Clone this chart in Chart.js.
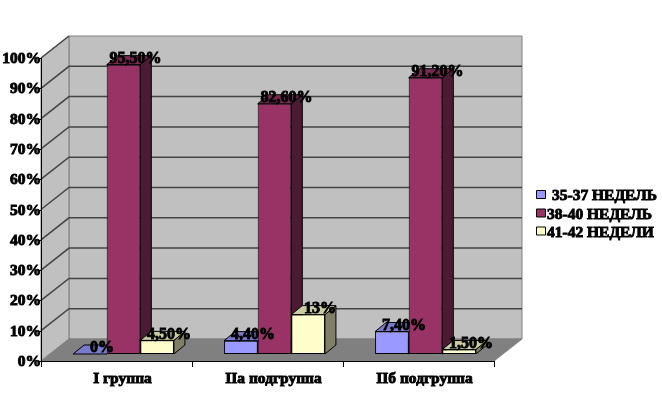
<!DOCTYPE html>
<html>
<head>
<meta charset="utf-8">
<script src="https://cdn.jsdelivr.net/npm/chart.js@4"></script>
<style>
  body { margin: 0; background: #fff; }
</style>
</head>
<body>
<canvas id="weeksChart" width="662" height="406"></canvas>
<script>
var categories = ['I группа', 'IIа подгруппа', 'IIб подгруппа'];
var seriesNames = ['35-37 НЕДЕЛЬ', '38-40 НЕДЕЛЬ', '41-42 НЕДЕЛИ'];
var weeks35to37 = [0, 4.4, 7.4];
var weeks38to40 = [95.5, 82.6, 91.2];
var weeks41to42 = [4.5, 13, 1.5];

// front, side and top colours of the bars
var blueFaces = ['#9999FF', '#4D4D80', '#7A7ACC'];
var plumFaces = ['#993366', '#4D1A33', '#7A2952'];
var creamFaces = ['#FFFFCC', '#808066', '#CCCCA3'];

var serif = '"Liberation Serif", serif';

function percentText(v) {
  if (v % 1 === 0) return v + '%';
  return v.toFixed(2).replace('.', ',') + '%';
}

function poly(ctx, pts, fill, stroke) {
  ctx.beginPath();
  ctx.moveTo(pts[0][0], pts[0][1]);
  for (var i = 1; i < pts.length; i++) ctx.lineTo(pts[i][0], pts[i][1]);
  ctx.closePath();
  if (fill) { ctx.fillStyle = fill; ctx.fill(); }
  if (stroke) { ctx.strokeStyle = stroke; ctx.stroke(); }
}

function heavyText(ctx, text, x, y) {
  ctx.fillText(text, x, y);
  ctx.strokeText(text, x, y);
}

// the box behind the bars and the extra faces of the bars
var box3d = {
  id: 'box3d',
  beforeDatasetsDraw: function (chart) {
    var ctx = chart.ctx;
    var x = chart.scales.x, y = chart.scales.y;
    var left = x.left - 7, right = x.right - 7;
    var bottom = y.getPixelForValue(0) + 7, top = y.getPixelForValue(100) + 7;
    var dx = 28, dy = -22;

    ctx.save();
    ctx.lineWidth = 1;
    poly(ctx, [[left + dx, top + dy], [right + dx, top + dy], [right + dx, bottom + dy], [left + dx, bottom + dy]], '#C0C0C0', '#808080');
    poly(ctx, [[left, top], [left + dx, top + dy], [left + dx, bottom + dy], [left, bottom]], '#C0C0C0', '#808080');
    poly(ctx, [[left, bottom], [left + dx, bottom + dy], [right + dx, bottom + dy], [right, bottom]], '#808080', '#808080');

    // gridlines along the left and back walls
    y.ticks.forEach(function (t) {
      if (t.value === 0) return;
      var py = y.getPixelForValue(t.value) + 7;
      ctx.strokeStyle = '#444444';
      ctx.lineWidth = 1.5;
      ctx.beginPath();
      ctx.moveTo(left, py);
      ctx.lineTo(left + dx, py + dy);
      if (t.value < 100) ctx.lineTo(right + dx, py + dy);
      ctx.stroke();
    });

    // bar sides and tops, left to right
    ctx.lineWidth = 1;
    var bdx = 11, bdy = -9;
    var faces = [blueFaces, plumFaces, creamFaces];
    for (var c = 0; c < categories.length; c++) {
      for (var d = 0; d < faces.length; d++) {
        var b = chart.getDatasetMeta(d).data[c];
        var l = b.x - b.width / 2, r = b.x + b.width / 2;
        poly(ctx, [[r, b.y], [r + bdx, b.y + bdy], [r + bdx, b.base + bdy], [r, b.base]], faces[d][1], '#000');
        poly(ctx, [[l, b.y], [l + bdx, b.y + bdy], [r + bdx, b.y + bdy], [r, b.y]], faces[d][2], '#000');
      }
    }
    ctx.restore();
  },
  afterDatasetsDraw: function (chart) {
    var ctx = chart.ctx;
    var x = chart.scales.x, y = chart.scales.y;
    var left = x.left - 7, right = x.right - 7;
    var bottom = y.getPixelForValue(0) + 7, top = y.getPixelForValue(100) + 7;

    ctx.save();
    ctx.strokeStyle = '#000';
    ctx.lineWidth = 1;
    ctx.beginPath();
    ctx.moveTo(left + 0.5, top);
    ctx.lineTo(left + 0.5, bottom);
    ctx.moveTo(left, bottom + 0.5);
    ctx.lineTo(right, bottom + 0.5);
    y.ticks.forEach(function (t) {
      var py = Math.round(y.getPixelForValue(t.value) + 7) + 0.5;
      ctx.moveTo(left - 3, py);
      ctx.lineTo(left, py);
    });
    var step = (right - left) / categories.length;
    for (var i = 0; i <= categories.length; i++) {
      var px = Math.round(left + step * i) + 0.5;
      ctx.moveTo(px, bottom);
      ctx.lineTo(px, bottom + 6);
    }
    ctx.stroke();

    // value labels
    ctx.fillStyle = '#000';
    ctx.lineWidth = 0.9;
    ctx.font = 'bold 16px ' + serif;
    ctx.textAlign = 'center';
    ctx.textBaseline = 'middle';
    chart.data.datasets.forEach(function (ds, d) {
      chart.getDatasetMeta(d).data.forEach(function (b, c) {
        heavyText(ctx, percentText(ds.data[c]), b.x + 12, b.y - 6);
      });
    });

    // legend to the right of the box
    var rows = [[190, 552], [208.5, 547], [226.5, 547]];
    ctx.textAlign = 'left';
    ctx.font = 'bold 15.5px ' + serif;
    chart.data.datasets.forEach(function (ds, d) {
      ctx.lineWidth = 1;
      poly(ctx, [[536.5, rows[d][0] + 0.5], [545.5, rows[d][0] + 0.5], [545.5, rows[d][0] + 8.5], [536.5, rows[d][0] + 8.5]], ds.backgroundColor, '#000');
      ctx.fillStyle = '#000';
      ctx.lineWidth = 0.9;
      heavyText(ctx, ds.label, rows[d][1], rows[d][0] + 6);
    });
    ctx.restore();
  }
};

new Chart(document.getElementById('weeksChart').getContext('2d'), {
  type: 'bar',
  data: {
    labels: categories,
    datasets: [
      { label: seriesNames[0], data: weeks35to37, backgroundColor: blueFaces[0] },
      { label: seriesNames[1], data: weeks38to40, backgroundColor: plumFaces[0] },
      { label: seriesNames[2], data: weeks41to42, backgroundColor: creamFaces[0] }
    ]
  },
  options: {
    responsive: false,
    animation: false,
    devicePixelRatio: 1,
    layout: { padding: { top: 51, right: 161, bottom: 0, left: 0 } },
    datasets: {
      bar: {
        categoryPercentage: 0.668,
        barPercentage: 1,
        borderColor: '#000',
        borderWidth: 1,
        borderSkipped: false
      }
    },
    scales: {
      x: {
        grid: { display: false, drawTicks: false },
        border: { display: false },
        ticks: {
          color: '#000',
          padding: 16,
          maxRotation: 0,
          labelOffset: -1,
          textStrokeColor: '#000',
          textStrokeWidth: 0.9,
          font: { family: serif, size: 15.5, weight: 'bold' }
        },
        afterFit: function (scale) { scale.height = 52; }
      },
      y: {
        min: 0,
        max: 100,
        grid: { display: false, drawTicks: false },
        border: { display: false },
        ticks: {
          stepSize: 10,
          padding: 7,
          labelOffset: 8,
          color: '#000',
          textStrokeColor: '#000',
          textStrokeWidth: 0.9,
          font: { family: serif, size: 15.5, weight: 'bold' },
          callback: function (v) { return v + '%'; }
        },
        afterFit: function (scale) { scale.width = 48; }
      }
    },
    plugins: {
      tooltip: { enabled: false },
      legend: { display: false }
    }
  },
  plugins: [box3d]
});
</script>
</body>
</html>
